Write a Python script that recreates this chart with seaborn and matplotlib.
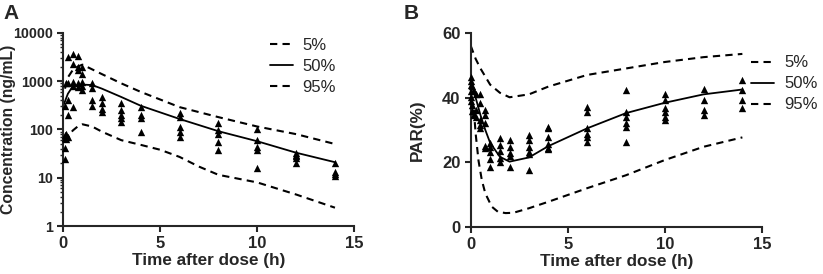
import numpy as np
import pandas as pd
import seaborn as sns
import matplotlib.pyplot as plt
from matplotlib.ticker import FixedLocator, FuncFormatter, LogLocator, NullFormatter

# ---- datos panel A (concentracion) ----
t_conc_obs = [0.083] * 5 + [0.167] * 4 + [0.25] * 5 + [0.5] * 5 + [0.75] * 5 + [1] * 5 \
    + [1.5] * 4 + [2] * 4 + [3] * 5 + [4] * 4 + [6] * 5 + [8] * 5 + [10] * 5 + [12] * 5 + [14] * 4
conc_obs = [25, 42, 65, 75, 300,
            70, 62, 900, 80,
            3100, 400, 200, 70, 900,
            3600, 2300, 950, 290, 800,
            3400, 2000, 900, 750, 1700,
            2000, 1400, 950, 650, 800,
            900, 720, 400, 300,
            470, 350, 270, 230,
            345, 250, 200, 170, 145,
            290, 200, 170, 90,
            215, 185, 113, 90, 70,
            135, 97, 82, 55, 37,
            100, 60, 44, 37, 16,
            32, 30, 28, 26, 20,
            20, 13, 12, 11]

t_conc_p50 = [0, 0.25, 0.5, 0.75, 1, 1.5, 2, 3, 4, 6, 8, 10, 12, 14]
conc_p50 = [300, 550, 780, 820, 850, 830, 700, 470, 310, 165, 92, 57, 33, 21]
t_conc_p95 = [0.1, 0.25, 0.5, 0.75, 1, 2, 3, 4, 6, 8, 10, 12, 14]
conc_p95 = [700, 1200, 1700, 2000, 2200, 1400, 900, 600, 290, 180, 115, 80, 50]
t_conc_p05 = [0.1, 0.25, 0.5, 0.75, 1, 1.5, 2, 3, 4, 5, 6, 7, 8, 10, 12, 14]
conc_p05 = [55, 70, 95, 115, 128, 115, 90, 60, 48, 38, 27, 17, 11.5, 8, 4.5, 2.4]

# ---- datos panel B (PAR) ----
t_par_obs = [0] * 6 + [0.083] * 3 + [0.167] * 3 + [0.25] * 3 + [0.5] * 5 + [0.75] * 5 + [1] * 5 \
    + [1.5] * 5 + [2] * 5 + [3] * 6 + [4] * 6 + [6] * 6 + [8] * 6 + [10] * 6 + [12] * 4 + [14] * 4
par_obs = [46.5, 45, 44, 41.9, 40.3, 38.8,
           43.5, 37.7, 36,
           42, 35, 34.6,
           41, 36.2, 34,
           41.1, 38.2, 33, 31.5, 30.5,
           36.2, 34.6, 32, 25, 24.3,
           26.1, 24.7, 23.3, 20.9, 18.6,
           27.4, 25.4, 23.6, 21.3, 20.2,
           26.9, 24.8, 23, 21.9, 18.6,
           28.4, 26.9, 24.8, 23.3, 22.6, 17.6,
           31, 30.5, 27.7, 25.7, 24.3, 24,
           37.2, 35.4, 30.5, 28.9, 27.9, 26.4,
           42.2, 35.7, 34.1, 32, 31, 26.4,
           41.1, 39.3, 36.7, 35.4, 34.1, 33,
           42.6, 39.3, 36.2, 34.6,
           45.5, 42.4, 39.3, 36.7]

t_par_p50 = [0, 0.25, 0.5, 0.75, 1, 1.5, 2, 3, 4, 6, 8, 10, 12, 14]
par_p50 = [46, 40, 34.6, 30, 26, 21.7, 20.2, 21.5, 25, 30.5, 35.2, 38.4, 41, 42.5]
t_par_p95 = [0, 0.25, 0.5, 0.75, 1, 1.5, 2, 3, 4, 6, 8, 10, 12, 14]
par_p95 = [56, 52, 49, 46.5, 44, 41.5, 40.1, 41, 43.4, 47, 49, 51, 52.5, 53.5]
t_par_p05 = [0, 0.15, 0.25, 0.4, 0.57, 0.75, 1.08, 1.4, 1.8, 2.2, 3, 4, 6, 8, 10, 12, 14]
par_p05 = [40, 37, 29, 20.5, 14.5, 10.4, 6.3, 4.7, 4.3, 4.4, 5.8, 7.8, 12, 16, 20.7, 24.8, 27.7]

sns.set_style("ticks")
plt.rcParams['font.family'] = ['Liberation Sans', 'DejaVu Sans']
plt.rcParams['axes.linewidth'] = 1.5

fig = plt.figure(figsize=(8.23, 2.74), dpi=100)
axA = fig.add_axes([0.0766, 0.175, 0.354, 0.705])
axB = fig.add_axes([0.572, 0.1715, 0.3536, 0.7085])

dash = (0, (3.5, 2.5))


def dibujar(ax, t_obs, y_obs, t05, y05, t50, y50, t95, y95):
    sns.lineplot(x=t05, y=y05, ax=ax, color="black", lw=1.5, label="5%")
    sns.lineplot(x=t50, y=y50, ax=ax, color="black", lw=1.3, label="50%")
    sns.lineplot(x=t95, y=y95, ax=ax, color="black", lw=1.5, label="95%")
    ax.lines[0].set_linestyle(dash)
    ax.lines[2].set_linestyle(dash)
    sns.scatterplot(x=t_obs, y=y_obs, ax=ax, marker="^", color="black",
                    s=28, linewidth=0, clip_on=False, zorder=3)
    sns.despine(ax=ax)
    ax.set_xlim(0, 15)
    ax.set_xticks([0, 5, 10, 15])
    ax.tick_params(axis="both", which="major", direction="out", length=4,
                   width=1.5, labelsize=12)
    for lab in ax.get_xticklabels() + ax.get_yticklabels():
        lab.set_fontweight("bold")
    ax.set_xlabel("Time after dose (h)", fontsize=12.3, fontweight="bold", labelpad=1)


dibujar(axA, t_conc_obs, conc_obs, t_conc_p05, conc_p05, t_conc_p50, conc_p50,
        t_conc_p95, conc_p95)
axA.set_yscale("log")
axA.set_ylim(1, 10000)
axA.yaxis.set_major_locator(FixedLocator([1, 10, 100, 1000, 10000]))
axA.yaxis.set_major_formatter(FuncFormatter(lambda v, p: f"{v:g}"))
axA.yaxis.set_minor_locator(LogLocator(base=10, subs=np.arange(2, 10)))
axA.yaxis.set_minor_formatter(NullFormatter())
axA.tick_params(axis="y", which="major", labelsize=10.3)
axA.tick_params(axis="y", which="minor", direction="out", length=2.5, width=1)
for lab in axA.get_yticklabels():
    lab.set_fontweight("bold")
axA.set_ylabel("Concentration (ng/mL)", fontsize=11.3, fontweight="bold")
axA.yaxis.set_label_coords(-0.162, 0.5)

dibujar(axB, t_par_obs, par_obs, t_par_p05, par_p05, t_par_p50, par_p50,
        t_par_p95, par_p95)
axB.set_ylim(0, 60)
axB.set_yticks([0, 20, 40, 60])
for lab in axB.get_yticklabels():
    lab.set_fontweight("bold")
axB.set_ylabel("PAR(%)", fontsize=12.3, fontweight="bold")
axB.yaxis.set_label_coords(-0.157, 0.5)

for ax, anchor in [(axA, (0.320, 0.885)), (axB, (0.905, 0.822))]:
    ax.legend(loc="upper left", bbox_to_anchor=anchor, bbox_transform=fig.transFigure,
              frameon=False, fontsize=12, handlelength=1.35, handletextpad=0.6,
              labelspacing=0.36, borderaxespad=0)

fig.text(0.004, 0.985, "A", fontsize=15, fontweight="bold", va="top")
fig.text(0.49, 0.985, "B", fontsize=15, fontweight="bold", va="top")

fig.savefig("out.png", dpi=100)
